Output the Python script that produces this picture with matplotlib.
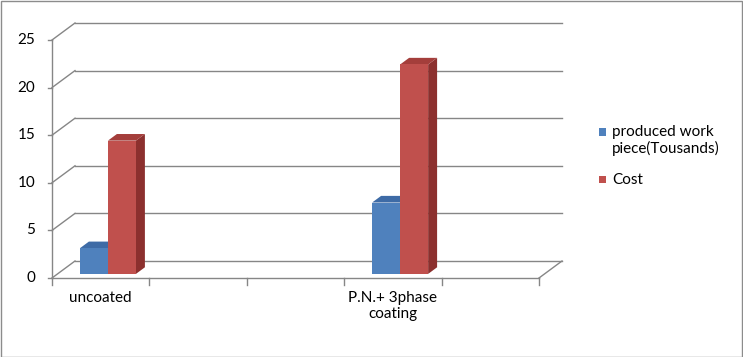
import matplotlib.pyplot as plt
from matplotlib.patches import Polygon, Rectangle

plt.rcParams['font.family'] = ['Lato', 'DejaVu Sans']

categories = ["uncoated", "", "", "P.N.+ 3phase\ncoating", ""]
series_names = ["produced work\npiece(Tousands)", "Cost"]
work_pieces = [2.7, None, None, 7.5, None]
cost = [14, None, None, 22, None]
y_ticks = [0, 5, 10, 15, 20, 25]

front_colors = ["#4F81BD", "#C0504D"]
top_colors = ["#3E6BA6", "#A43E3B"]
side_colors = ["#375E92", "#8C302E"]
grid_col = "#868686"

# pixel layout of the excel-like 3d box
W, H = 743, 357
X0, PX_CAT = 52, 97.4
Y0, PX_VAL = 278, (278 - 40) / 25
DX, DY = 23 / PX_CAT, 17 / PX_VAL
D0, D1 = 0.24, 0.63
OFF, BW = 0.23, 0.2875
FS = 11

fig = plt.figure(figsize=(W / 100, H / 100), dpi=100)
ax = fig.add_axes([0, 0, 1, 1])
ax.set_xlim(-X0 / PX_CAT, (W - X0) / PX_CAT)
ax.set_ylim((Y0 - H) / PX_VAL, Y0 / PX_VAL)
ax.axis('off')

n = len(categories)

# walls and gridlines
for v in y_ticks:
    ax.plot([0, DX], [v, v + DY], color=grid_col, lw=1, zorder=1)
    ax.plot([DX, n + DX], [v + DY, v + DY], color=grid_col, lw=1, zorder=1)
    ax.plot([-0.045, 0], [v, v], color=grid_col, lw=1, zorder=1)
    ax.text(-0.17, v, str(v), ha='right', va='center', fontsize=FS, color='black')
ax.plot([0, 0], [0, y_ticks[-1]], color=grid_col, lw=1, zorder=1)
ax.plot([0, n], [0, 0], color=grid_col, lw=1, zorder=1)
ax.plot([n, n + DX], [0, DY], color=grid_col, lw=1, zorder=1)
for i in range(n + 1):
    ax.plot([i, i], [0, -0.75], color=grid_col, lw=1, zorder=1)
for i, c in enumerate(categories):
    if c:
        ax.text(i + 0.5, -1.35, c, ha='center', va='top', fontsize=FS,
                linespacing=1.2, color='black')


def bar3d(x0, v, k):
    x1 = x0 + BW
    a = (x0 + D0 * DX, D0 * DY)
    b = (x1 + D0 * DX, D0 * DY)
    front = [a, b, (b[0], b[1] + v), (a[0], a[1] + v)]
    top = [(a[0], a[1] + v), (b[0], b[1] + v),
           (x1 + D1 * DX, v + D1 * DY), (x0 + D1 * DX, v + D1 * DY)]
    side = [b, (x1 + D1 * DX, D1 * DY), (x1 + D1 * DX, v + D1 * DY), (b[0], b[1] + v)]
    for pts, col in [(side, side_colors[k]), (top, top_colors[k]), (front, front_colors[k])]:
        ax.add_patch(Polygon(pts, closed=True, facecolor=col, edgecolor='none', zorder=3 + k))


for i in range(n):
    for k, vals in enumerate([work_pieces, cost]):
        if vals[i] is not None:
            bar3d(i + OFF + k * BW, vals[i], k)

# legend
tr = fig.transFigure
leg_y = [132, 180]
for k, name in enumerate(series_names):
    yc = leg_y[k]
    fig.patches.append(Rectangle((599 / W, 1 - (yc + 3.5) / H), 7 / W, 7 / H,
                                 transform=tr, facecolor=front_colors[k], edgecolor='none'))
    fig.text(612 / W, 1 - (yc - 7) / H, name, ha='left', va='top', fontsize=FS,
             linespacing=1.2, color='black')

# outer border
fig.patches.append(Rectangle((0.5 / W, 0.5 / H), 1 - 1.5 / W, 1 - 1.5 / H, transform=tr,
                             facecolor='none', edgecolor='#8C8C8C', lw=1))

fig.savefig("out.png", dpi=100)
